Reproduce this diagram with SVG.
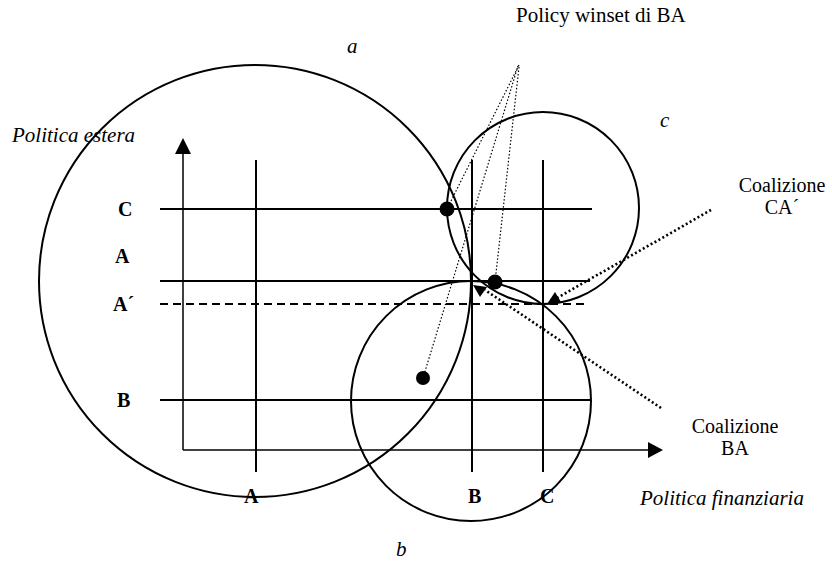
<svg xmlns="http://www.w3.org/2000/svg" width="832" height="562" viewBox="0 0 832 562">
<style>
.circ{fill:none;stroke:#000;stroke-width:2}
.ln{stroke:#000;stroke-width:2;fill:none}
.ax{stroke:#000;stroke-width:1.5;fill:none}
.thin{stroke:#000;stroke-width:1.2;stroke-dasharray:1.5 2;fill:none}
.thick{stroke:#000;stroke-width:2.6;stroke-dasharray:2 2.5;fill:none}
.lbl{font-family:"Liberation Serif","Times New Roman",serif;font-size:20px;font-weight:bold;fill:#000}
.it{font-family:"Liberation Serif","Times New Roman",serif;font-size:21px;font-style:italic;fill:#000}
.txt{font-family:"Liberation Serif","Times New Roman",serif;font-size:21px;fill:#000}
.co{font-family:"Liberation Serif","Times New Roman",serif;font-size:20px;fill:#000}
</style>
<rect width="832" height="562" fill="#fff"/>
<g id="circles">
<circle id="circle-a" class="circ" cx="255" cy="281" r="216"/>
<circle id="circle-c" class="circ" cx="543" cy="208" r="96"/>
<circle id="circle-b" class="circ" cx="471" cy="401" r="120"/>
</g>
<g id="grid">
<line class="ln" x1="160" y1="209" x2="592" y2="209"/>
<line class="ln" x1="160" y1="281" x2="590" y2="281"/>
<line class="ln" x1="160" y1="304" x2="586" y2="304" stroke-dasharray="8 5"/>
<line class="ln" x1="160" y1="400" x2="591" y2="400"/>
<line class="ln" x1="256" y1="160" x2="256" y2="472"/>
<line class="ln" x1="472" y1="160" x2="472" y2="472"/>
<line class="ln" x1="543" y1="160" x2="543" y2="472"/>
</g>
<g id="axes">
<line class="ax" x1="183" y1="450" x2="183" y2="152"/>
<polygon points="183,138 175,154 191,154" fill="#000"/>
<line class="ax" x1="183" y1="450" x2="649" y2="450"/>
<polygon points="663,450 648,442 648,458" fill="#000"/>
</g>
<g id="connectors">
<line class="thin" x1="519" y1="65" x2="447" y2="209"/>
<line class="thin" x1="518" y1="66" x2="423" y2="378"/>
<line class="thin" x1="519" y1="67" x2="495" y2="282"/>
<line class="thick" x1="711" y1="210" x2="557" y2="298"/>
<polygon points="547,304 555,292 561,302" fill="#000"/>
<line class="thick" x1="661" y1="408" x2="485" y2="290"/>
<polygon points="473,285 487,287 480,297" fill="#000"/>
</g>
<g id="points">
<circle cx="447" cy="209" r="7.5" fill="#000"/>
<circle cx="495" cy="282" r="7.5" fill="#000"/>
<circle cx="423" cy="378" r="7" fill="#000"/>
</g>
<g id="labels">
<text class="lbl" x="118" y="216">C</text>
<text class="lbl" x="115" y="263">A</text>
<text class="lbl" x="113" y="311">A´</text>
<text class="lbl" x="117" y="407">B</text>
<text class="lbl" x="244" y="503">A</text>
<text class="lbl" x="468" y="503">B</text>
<text class="lbl" x="540" y="503">C</text>
<text class="it" x="12" y="142">Politica estera</text>
<text class="it" x="640" y="505">Politica finanziaria</text>
<text class="it" x="347" y="53">a</text>
<text class="it" x="660" y="127">c</text>
<text class="it" x="396" y="556">b</text>
<text class="txt" x="516" y="22">Policy winset di BA</text>
<text class="co" x="782" y="192" text-anchor="middle">Coalizione</text>
<text class="co" x="782" y="214" text-anchor="middle">CA´</text>
<text class="co" x="735" y="433" text-anchor="middle">Coalizione</text>
<text class="co" x="735" y="455" text-anchor="middle">BA</text>
</g>
</svg>
